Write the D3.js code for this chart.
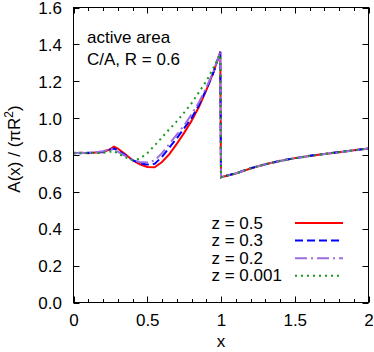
<!DOCTYPE html>
<html><head><meta charset="utf-8">
<script src="https://cdn.jsdelivr.net/npm/d3@7"></script>
<style>body{margin:0;background:#fff}svg{display:block}text{font-family:"Liberation Sans",Arial,sans-serif;fill:#000}</style>
</head><body><svg id="c" width="374" height="352"></svg>
<script>
const xHead = [0,0.05,0.1,0.15,0.2,0.25,0.275,0.3,0.35,0.4,0.45,0.5,0.55,0.6,0.65,0.7,0.75,0.8,0.85,0.9,0.95,0.995];
const xTail = [1.0,1.1,1.2,1.3,1.4,1.5,1.6,1.7,1.8,1.9,2.0];
const seriesNames = ["z = 0.5","z = 0.3","z = 0.2","z = 0.001"];
const redHead    = [0.81,0.812,0.81,0.813,0.815,0.832,0.845,0.835,0.805,0.772,0.75,0.735,0.733,0.762,0.805,0.86,0.92,0.985,1.06,1.15,1.25,1.36];
const blueHead   = [0.812,0.81,0.812,0.812,0.818,0.83,0.835,0.826,0.80,0.772,0.755,0.748,0.752,0.79,0.84,0.89,0.945,1.0,1.07,1.155,1.25,1.36];
const purpleHead = [0.81,0.812,0.81,0.815,0.82,0.833,0.828,0.818,0.795,0.772,0.762,0.76,0.77,0.81,0.86,0.91,0.96,1.02,1.085,1.165,1.255,1.36];
const greenHead  = [0.81,0.81,0.812,0.81,0.812,0.818,0.822,0.808,0.788,0.772,0.78,0.81,0.852,0.895,0.94,0.982,1.03,1.08,1.14,1.2,1.275,1.345];
const redTail    = [0.68,0.70,0.727,0.75,0.768,0.783,0.795,0.806,0.815,0.826,0.835];
const blueTail   = [0.68,0.701,0.728,0.749,0.769,0.782,0.796,0.805,0.816,0.825,0.836];
const purpleTail = [0.68,0.70,0.728,0.75,0.768,0.782,0.795,0.805,0.815,0.825,0.835];
const greenTail  = [0.68,0.699,0.727,0.751,0.767,0.782,0.794,0.806,0.815,0.826,0.835];
const xMajor = [0,0.5,1,1.5,2];
const yMajor = [0,0.2,0.4,0.6,0.8,1.0,1.2,1.4,1.6];

const svg = d3.select("#c");
const x = d3.scaleLinear().domain([0,2]).range([73.5,368.5]);
const y = d3.scaleLinear().domain([0,1.6]).range([302.5,7.5]);
const xs = xHead.concat(xTail);
const series = [
  {name:seriesNames[0], vals:redHead.concat(redTail), color:"#ff0000", dash:null},
  {name:seriesNames[1], vals:blueHead.concat(blueTail), color:"#0000ff", dash:"8,4"},
  {name:seriesNames[2], vals:purpleHead.concat(purpleTail), color:"#9a6ee0", dash:"12,4,2,4"},
  {name:seriesNames[3], vals:greenHead.concat(greenTail), color:"#1a9a1a", dash:"2,4"}
];
svg.append("clipPath").attr("id","clip").append("rect")
  .attr("x",73.5).attr("y",7.5).attr("width",295).attr("height",295);
const line = d3.line().x(d=>x(d[0])).y(d=>y(d[1]));
const g = svg.append("g").attr("clip-path","url(#clip)");
series.forEach(s=>{
  g.append("path").datum(xs.map((xv,i)=>[xv,s.vals[i]]))
   .attr("d",line).attr("fill","none").attr("stroke",s.color)
   .attr("stroke-width",2).attr("stroke-dasharray",s.dash);
});
// axes
const xMinor = d3.range(0,2.0001,0.1);
const bottom = d3.axisBottom(x).tickValues(xMajor).tickSize(0).tickPadding(0).tickFormat(d3.format("~g"));
const ax = svg.append("g").attr("transform","translate(0,302.5)").call(bottom);
ax.select(".domain").remove();
ax.selectAll("text").attr("dy",null).attr("y",23.5).attr("font-size","17px").attr("font-family","Liberation Sans, Arial, sans-serif");
const left = d3.axisLeft(y).tickValues(yMajor).tickSize(0).tickPadding(0).tickFormat(d3.format(".1f"));
const ay = svg.append("g").attr("transform","translate(62,0)").call(left);
ay.select(".domain").remove();
ay.selectAll("text").attr("x",0).attr("dy","0.36em").attr("font-size","17px").attr("font-family","Liberation Sans, Arial, sans-serif");
const tk = svg.append("g").attr("stroke","#000").attr("stroke-width",1);
xMinor.forEach(v=>{
  const major = xMajor.some(m=>Math.abs(m-v)<1e-6);
  const L = major?6:3.5;
  const px = Math.round(x(v))+0.5;
  tk.append("line").attr("x1",px).attr("x2",px).attr("y1",302.5).attr("y2",302.5-L);
  tk.append("line").attr("x1",px).attr("x2",px).attr("y1",7.5).attr("y2",7.5+L);
});
yMajor.forEach(v=>{
  const py = Math.round(y(v))+0.5;
  tk.append("line").attr("x1",73.5).attr("x2",79.5).attr("y1",py).attr("y2",py);
  tk.append("line").attr("x1",368.5).attr("x2",362.5).attr("y1",py).attr("y2",py);
});
svg.append("rect").attr("x",73.5).attr("y",7.5).attr("width",295).attr("height",295)
  .attr("fill","none").attr("stroke","#000").attr("stroke-width",1);
// labels
svg.append("text").attr("x",221).attr("y",347).attr("text-anchor","middle").attr("font-size","17px").text("x");
const yl = svg.append("text").attr("transform","translate(20,149) rotate(-90)").attr("text-anchor","middle").attr("font-size","17px");
yl.append("tspan").text("A(x) / (\u03c0R");
yl.append("tspan").attr("font-size","12px").attr("dy","-7").text("2");
yl.append("tspan").attr("dy","7").text(")");
svg.append("text").attr("x",87).attr("y",43).attr("font-size","17px").text("active area");
svg.append("text").attr("x",87).attr("y",65).attr("font-size","17px").text("C/A, R = 0.6");
// legend
series.forEach((s,i)=>{
  const by = 228.5 + i*17.6;
  svg.append("text").attr("x",211.5).attr("y",by).attr("font-size","17px").text(s.name);
  svg.append("line").attr("x1",295).attr("x2",343).attr("y1",by-5.5).attr("y2",by-5.5)
    .attr("stroke",s.color).attr("stroke-width",2).attr("stroke-dasharray",s.dash);
});
</script></body></html>
